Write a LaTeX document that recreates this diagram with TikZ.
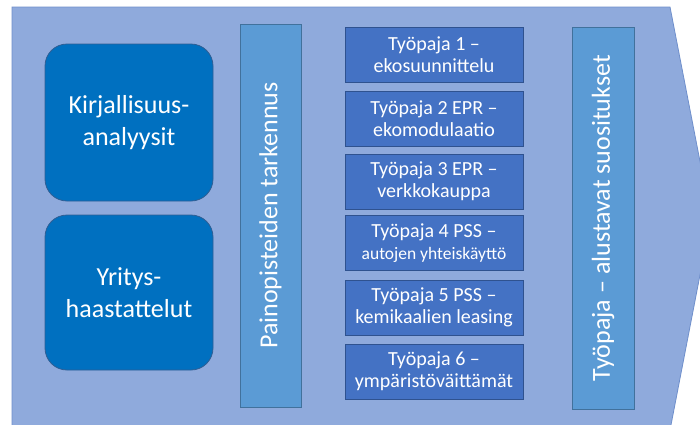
\documentclass[tikz,border=0pt]{standalone}
\usepackage{fontspec}
\setmainfont{Carlito}
\definecolor{bgfill}{HTML}{8FAADC}
\definecolor{bgline}{HTML}{6F8FCB}
\definecolor{litbox}{HTML}{0070C0}
\definecolor{litline}{HTML}{2F5E94}
\definecolor{barfill}{HTML}{5B9BD5}
\definecolor{barline}{HTML}{41719C}
\definecolor{wsfill}{HTML}{4472C4}
\definecolor{wsline}{HTML}{2F528F}
\begin{document}
\begin{tikzpicture}[x=1pt,y=-1pt,
  srcbox/.style={draw=litline,fill=litbox,line width=0.8pt,rounded corners=22pt,
    minimum width=168pt,text=white,align=center,inner sep=0pt,
    font=\fontsize{26}{32}\selectfont},
  vbar/.style={draw=barline,fill=barfill,line width=0.8pt,minimum height=61pt,
    text=white,inner sep=0pt,rotate=90,font=\fontsize{26}{30}\selectfont},
  wsbox/.style={draw=wsline,fill=wsfill,line width=0.8pt,minimum width=178pt,
    minimum height=55pt,text=white,align=center,inner sep=0pt,
    font=\fontsize{20}{22}\selectfont}]
\useasboundingbox (0,0) rectangle (700,424);
\fill[white] (0,0) rectangle (700,424);
\draw[bgline,fill=bgfill,line width=0.8pt] (12,7) -- (670,7) -- (711,218) -- (670,430) -- (12,430) -- cycle;
\node[srcbox,minimum height=157pt] (lit) at (129,122.5) {Kirjallisuus-\\analyysit};
\node[srcbox,minimum height=155pt] (int) at (129,292.5) {Yritys-\\haastattelut};
\node[vbar,minimum width=383pt,minimum height=61pt] (foc) at (270.5,215.5) {Painopisteiden tarkennus};
\node[vbar,minimum width=382pt,minimum height=62pt] (rec) at (603,218) {Työpaja – alustavat suositukset};
\node[wsbox] (w1) at (434,54.5) {Työpaja 1 –\\ekosuunnittelu};
\node[wsbox] (w2) at (434,118.5) {Työpaja 2 EPR –\\ekomodulaatio};
\node[wsbox] (w3) at (434,181.5) {Työpaja 3 EPR –\\verkkokauppa};
\node[wsbox] (w4) at (434,243) {Työpaja 4 PSS –\\{\fontsize{17.5}{20}\selectfont autojen yhteiskäyttö}};
\node[wsbox] (w5) at (434,307.5) {Työpaja 5 PSS –\\kemikaalien leasing};
\node[wsbox] (w6) at (434,371.5) {Työpaja 6 –\\ympäristöväittämät};
\end{tikzpicture}
\end{document}
